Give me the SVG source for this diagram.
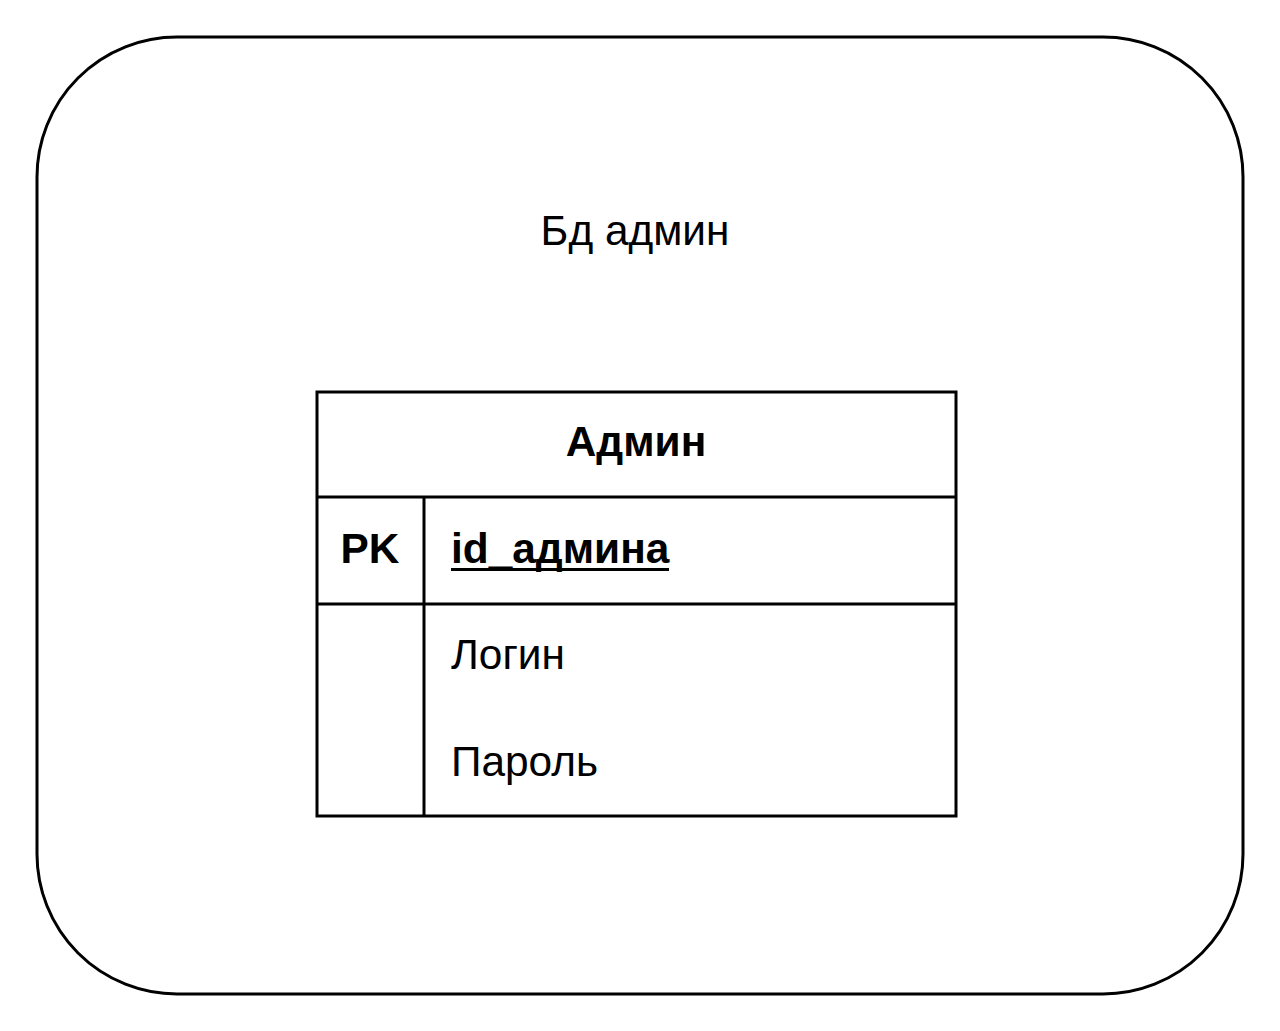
<svg xmlns="http://www.w3.org/2000/svg" width="1280" height="1031" viewBox="0 0 1280 1031">
<style>
.ln{fill:none;stroke:#000;stroke-width:3}
.t{font-family:"Liberation Sans",Arial,sans-serif;font-size:42.4px;fill:#000}
.b{font-weight:bold}
</style>
<rect width="1280" height="1031" fill="#fff"/>
<g id="db">
<rect class="ln" x="37" y="37" width="1206" height="957" rx="140" ry="140"/>
<text class="t" x="635" y="245" text-anchor="middle">Бд админ</text>
</g>
<g id="table-admin">
<rect class="ln" x="317" y="392" width="639" height="424"/>
<line class="ln" x1="317" y1="497" x2="956" y2="497"/>
<line class="ln" x1="317" y1="604" x2="956" y2="604"/>
<line class="ln" x1="424" y1="497" x2="424" y2="816"/>
<text class="t b" x="636" y="456" text-anchor="middle">Админ</text>
<text class="t b" x="370" y="563" text-anchor="middle">PK</text>
<text class="t b" x="451" y="563">id_админа</text>
<line x1="451" y1="569.5" x2="669" y2="569.5" stroke="#000" stroke-width="3"/>
<text class="t" x="451" y="669">Логин</text>
<text class="t" x="451" y="776">Пароль</text>
</g>
<g id="connectors"/>
</svg>
